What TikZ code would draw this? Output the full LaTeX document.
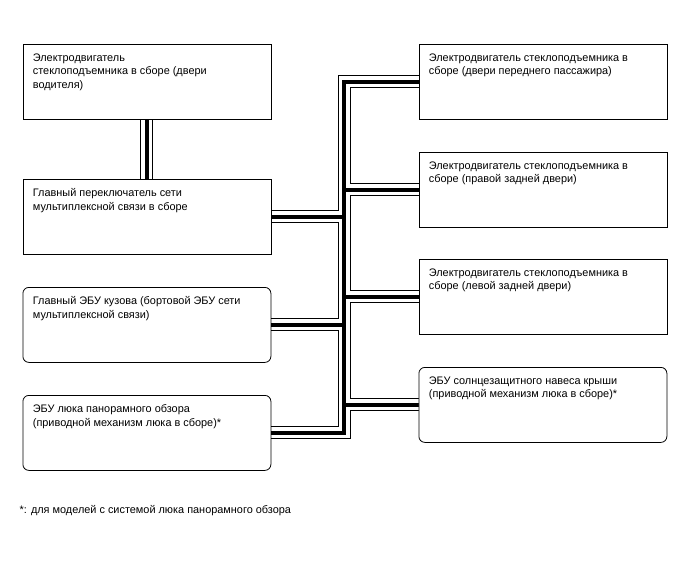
\documentclass[tikz,border=0pt]{standalone}
\usepackage{fontspec}
\setmainfont{Liberation Sans}
\usepackage{tikz}
\pgfdeclarelayer{bus}
\pgfsetlayers{bus,main}
\newcommand{\unittext}[1]{\parbox[c][56pt][t]{228pt}{\raggedright #1}}

\begin{document}
\begin{tikzpicture}[x=1pt,y=-1pt,
    unit/.style={draw,line width=0.8pt,fill=white,anchor=north west,inner xsep=10pt,inner ysep=9.5pt,font=\fontsize{10.9}{13.3}\selectfont},
    ecu/.style={unit,rounded corners=6pt}]
  \useasboundingbox (0,0) rectangle (688,560);
  % left column
  \node[unit] (drvmotor) at (22.5,44) {\unittext{Электродвигатель\\стеклоподъемника в сборе (двери\\водителя)}};
  \node[unit] (mainsw) at (22.5,179) {\unittext{Главный переключатель сети\\мультиплексной связи в сборе}};
  \node[ecu] (bodyecu) at (22.5,287) {\unittext{Главный ЭБУ кузова (бортовой ЭБУ сети\\мультиплексной связи)}};
  \node[ecu] (panecu) at (22.5,395) {\unittext{ЭБУ люка панорамного обзора\\(приводной механизм люка в сборе)*}};
  % right column
  \node[unit] (fpmotor) at (418.5,44) {\unittext{Электродвигатель стеклоподъемника в\\сборе (двери переднего пассажира)}};
  \node[unit] (rrmotor) at (418.5,152) {\unittext{Электродвигатель стеклоподъемника в\\сборе (правой задней двери)}};
  \node[unit] (rlmotor) at (418.5,259) {\unittext{Электродвигатель стеклоподъемника в\\сборе (левой задней двери)}};
  \node[ecu] (shadeecu) at (418.5,367) {\unittext{ЭБУ солнцезащитного навеса крыши\\(приводной механизм люка в сборе)*}};
  \coordinate (trunk) at (344,0);

  % bus lines: outline, gap, core
  \begin{pgfonlayer}{bus}
    \foreach \w/\c in {13/black,11/white,4.5/black}
      \draw[\c,line width=\w pt,line join=miter]
        (drvmotor.south) -- (mainsw.north)
        (fpmotor.west) -- (fpmotor.west -| trunk) -- (panecu.east -| trunk) -- (panecu.east)
        (mainsw.east) -- (mainsw.east -| trunk)
        (bodyecu.east) -- (bodyecu.east -| trunk)
        (rrmotor.west) -- (rrmotor.west -| trunk)
        (rlmotor.west) -- (rlmotor.west -| trunk)
        (shadeecu.west) -- (shadeecu.west -| trunk);
  \end{pgfonlayer}

  \node[anchor=west,inner sep=0pt,font=\fontsize{10.9}{12}\selectfont] (note) at (19.5,511) {*: для моделей с системой люка панорамного обзора};
\end{tikzpicture}
\end{document}
